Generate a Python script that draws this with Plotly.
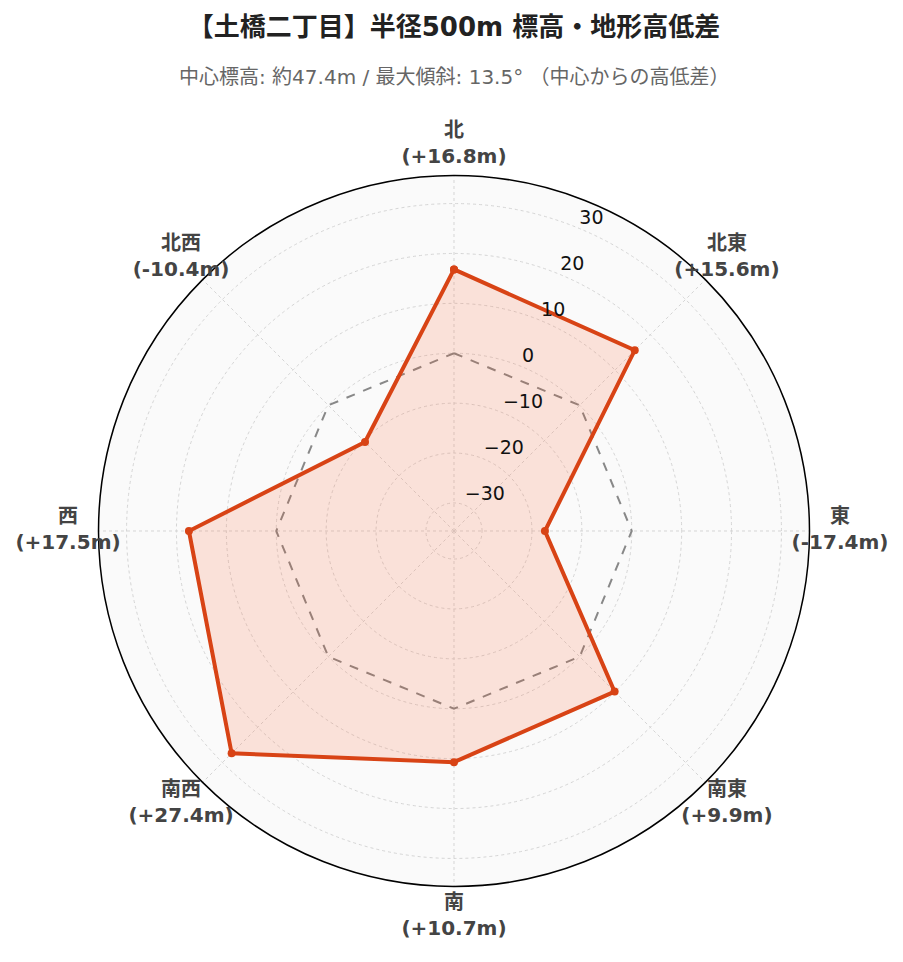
import plotly.graph_objects as go

directions = ["北", "北東", "東", "南東", "南", "南西", "西", "北西"]
diffs = [16.8, 15.6, -17.4, 9.9, 10.7, 27.4, 17.5, -10.4]
reference = [0, 0, 0, 0, 0, 0, 0, 0]
radial_ticks = [-30, -20, -10, 0, 10, 20, 30]
radial_tick_labels = [str(v).replace("-", "\u2212") for v in radial_ticks]

labels = [f"<b>{d}<br>({v:+.1f}m)</b>" for d, v in zip(directions, diffs)]
direction_deg = [i * 360 / len(directions) for i in range(len(directions))]
rmax = max(abs(v) for v in diffs) * 1.3
radial_axis_angle = 67.5  # compass bearing measured clockwise from north is 22.5

# geometry (pixels, within the figure div) of the chart and of the outer label ring
W, H = 903, 962
cx, cy, R = 446, 523, 355.5
R2 = 400
label_px = 386
px_per_unit = R / (2 * rmax)
rmax2 = -rmax + R2 / px_per_unit
label_r = -rmax + label_px / px_per_unit


def dom(radius):
    return dict(x=[(cx - radius) / W, (cx + radius) / W],
                y=[1 - (cy + radius) / H, 1 - (cy - radius) / H])


theta_closed = directions + [directions[0]]

fig = go.Figure()
fig.add_trace(go.Scatterpolar(
    r=reference + [reference[0]], theta=theta_closed, mode="lines",
    line=dict(color="#888888", width=2, dash="dash"),
    hoverinfo="skip", showlegend=False,
))
fig.add_trace(go.Scatterpolar(
    r=diffs + [diffs[0]], theta=theta_closed, mode="lines+markers",
    line=dict(color="#d84315", width=4),
    marker=dict(color="#d84315", size=8),
    fill="toself", fillcolor="rgba(255,87,34,0.15)",
    showlegend=False,
))
# direction labels on the outer ring
fig.add_trace(go.Scatterpolar(
    r=[label_r] * len(directions), theta=direction_deg, mode="text",
    text=labels, textposition="middle center",
    textfont=dict(size=20, color="#444"),
    hoverinfo="skip", showlegend=False, subplot="polar2",
))
# radial tick labels along the radial axis
fig.add_trace(go.Scatterpolar(
    r=radial_ticks, theta=[90 - radial_axis_angle] * len(radial_ticks), mode="text",
    text=radial_tick_labels, textposition="top right",
    textfont=dict(size=19, color="#111"),
    hoverinfo="skip", showlegend=False, subplot="polar2",
))

hidden_angular = dict(type="linear", direction="clockwise", rotation=90, showline=False,
                      showgrid=False, showticklabels=False, ticks="")

fig.update_layout(
    width=W, height=H,
    paper_bgcolor="white",
    font=dict(family="DejaVu Sans, 'Noto Sans CJK JP', sans-serif", color="#333"),
    margin=dict(l=0, r=0, t=0, b=0),
    title=dict(text="<b>【土橋二丁目】半径500m 標高・地形高低差</b>",
               x=cx / W, xanchor="center", y=1 - 19 / H, yanchor="middle",
               font=dict(size=26, color="#222")),
    annotations=[dict(
        text="中心標高: 約47.4m / 最大傾斜: 13.5° （中心からの高低差）",
        x=cx / W, y=1 - 69 / H, xref="paper", yref="paper", xanchor="center", yanchor="middle",
        showarrow=False, font=dict(size=20, color="#666"),
    )],
    polar=dict(
        domain=dom(R),
        bgcolor="#fafafa",
        angularaxis=dict(
            direction="clockwise", rotation=90,
            linecolor="black", linewidth=1.5, showline=True,
            gridcolor="#d5d5d5", griddash="dot",
            showticklabels=False,
            ticks="",
        ),
        radialaxis=dict(
            range=[-rmax, rmax], tickvals=radial_ticks,
            angle=radial_axis_angle, showticklabels=False,
            showline=False, ticks="",
            gridcolor="#d5d5d5", griddash="dot",
        ),
    ),
    polar2=dict(
        domain=dom(R2),
        bgcolor="rgba(0,0,0,0)",
        angularaxis=hidden_angular,
        radialaxis=dict(range=[-rmax, rmax2], visible=False),
    ),
)

fig.write_html("out.html")
